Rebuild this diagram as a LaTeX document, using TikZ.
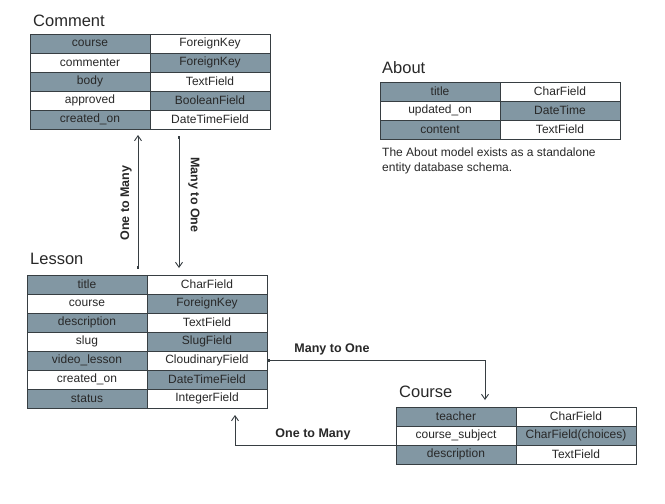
\documentclass[tikz,border=0pt]{standalone}
\usepackage{fontspec}
\setmainfont{Liberation Sans}
\usetikzlibrary{arrows.meta,calc}
\definecolor{shade}{RGB}{130,151,163}
\definecolor{edge}{RGB}{55,62,66}
\definecolor{ink}{RGB}{40,40,40}
\newcommand{\modeltable}[4]{% name, x, y, list
  \foreach \a/\b [count=\i] in {#4} {
    \ifodd\i \def\lf{shade}\def\rf{white}\else\def\lf{white}\def\rf{shade}\fi
    \node[cell, fill=\lf] (#1-\i-l) at (#2, #3+19*\i-19) {\a};
    \node[cell, fill=\rf, anchor=north west] (#1-\i-r) at (#1-\i-l.north east) {\b};
  }
}
\begin{document}
\begin{tikzpicture}[x=1pt,y=-1pt,
  every node/.style={text=ink},
  cell/.style={draw=edge, line width=0.8pt, minimum width=120pt, minimum height=19pt,
    inner sep=0pt, outer sep=0pt, anchor=north west, font=\fontsize{12}{14}\selectfont},
  ttl/.style={anchor=base west, inner sep=0pt, font=\fontsize{16.5}{19}\selectfont},
  lbl/.style={inner sep=0pt, font=\fontsize{12.5}{14}\selectfont\bfseries},
  conn/.style={draw=edge, line width=0.9pt, {Square[length=2.6pt,width=2.6pt]}-{Straight Barb[length=5pt,width=7pt]}}
  ]
\useasboundingbox (0,0) rectangle (665,504);
\fill[white] (0,0) rectangle (665,504);

% Comment
\node[ttl] (tcomment) at (33,26) {Comment};
\modeltable{comment}{30}{34}{course/ForeignKey, commenter/ForeignKey, body/TextField, approved/BooleanField, created\_on/DateTimeField}

% Lesson
\node[ttl] (tlesson) at (30,264) {Lesson};
\modeltable{lesson}{27}{275}{title/CharField, course/ForeignKey, description/TextField, slug/SlugField, video\_lesson/CloudinaryField, created\_on/DateTimeField, status/IntegerField}

% About
\node[ttl] (tabout) at (382,73) {About};
\modeltable{about}{380}{82}{title/CharField, updated\_on/DateTime, content/TextField}
\node[anchor=north west, inner sep=0pt, align=left, font=\fontsize{12}{14.5}\selectfont] (aboutnote) at (382,148)
  {The About model exists as a standalone\\entity database schema.};

% Course
\node[ttl] (tcourse) at (399,397) {Course};
\modeltable{course}{396}{407}{teacher/CharField, course\_subject/CharField(choices), description/TextField}

% Connectors Comment <-> Lesson
\coordinate (a1s) at ($(lesson-1-l.north east)+(-9,-6)$);
\coordinate (a1e) at ($(a1s |- comment-5-l.south)+(0,6)$);
\draw[conn] (a1s) -- (a1e);
\node[lbl, rotate=90] (l1) at (126,203) {One to Many};

\coordinate (a2s) at ($(comment-5-r.south west)+(29,7)$);
\coordinate (a2e) at ($(a2s |- lesson-1-r.north)+(0,-7)$);
\draw[conn] (a2s) -- (a2e);
\node[lbl, rotate=-90] (l2) at (194,195) {Many to One};

% Lesson -> Course
\coordinate (a3c) at ($(course-1-r.north west)+(-31,0)$);
\draw[conn] (lesson-5-r.east) -| ($(a3c)+(0,-7)$);
\node[lbl] (l3) at (332,349) {Many to One};

% Course -> Lesson
\coordinate (a4c) at ($(lesson-7-l.south east)+(88,7)$);
\draw[draw=edge, line width=0.9pt, -{Straight Barb[length=5pt,width=7pt]}] (course-2-l.south west) -| (a4c);
\node[lbl] (l4) at (313,434) {One to Many};
\end{tikzpicture}
\end{document}
